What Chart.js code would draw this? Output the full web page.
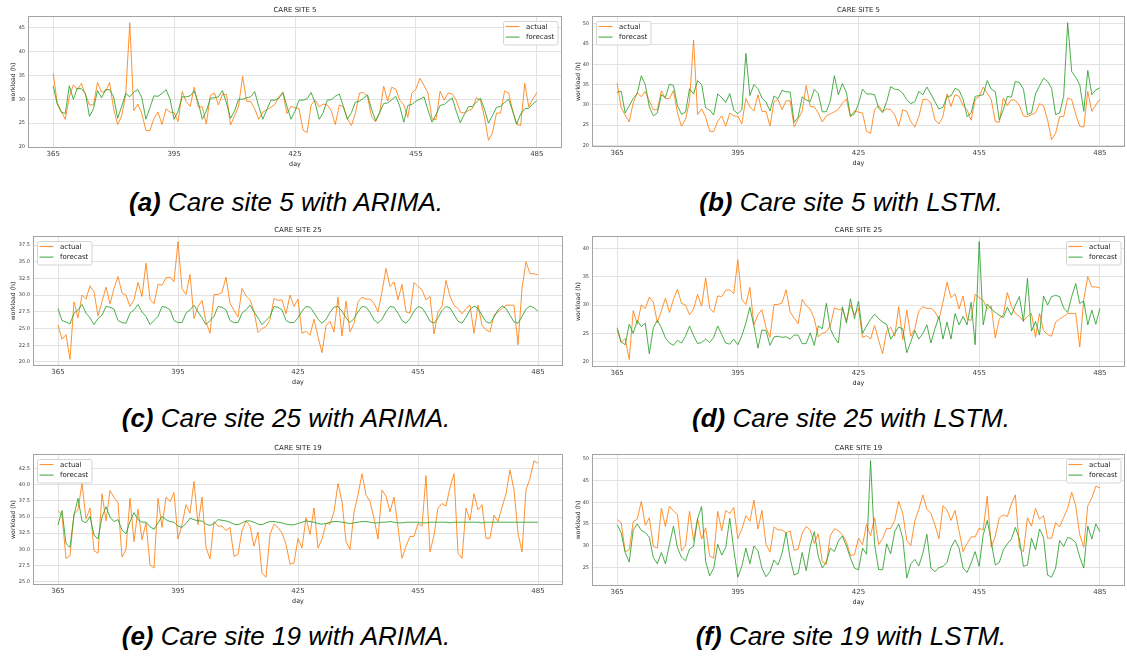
<!DOCTYPE html>
<html><head><meta charset="utf-8">
<script src="https://cdn.jsdelivr.net/npm/chart.js@4.4.0/dist/chart.umd.min.js"></script>
<style>
html,body{margin:0;padding:0;background:#fff;}
body{width:1127px;height:657px;position:relative;overflow:hidden;}
canvas{position:absolute;}
.cap{position:absolute;width:560px;text-align:center;font-family:"Liberation Sans",Arial,sans-serif;font-style:italic;font-size:26px;line-height:26px;color:#000;white-space:nowrap;}
.cap b{font-weight:bold;}
</style></head><body>
<canvas id="pa" width="565" height="172" style="left:0px;top:2px"></canvas>
<canvas id="pb" width="562" height="172" style="left:565px;top:2px"></canvas>
<canvas id="pc" width="565" height="166" style="left:0px;top:222px"></canvas>
<canvas id="pd" width="562" height="166" style="left:565px;top:222px"></canvas>
<canvas id="pe" width="565" height="168" style="left:0px;top:440px"></canvas>
<canvas id="pf" width="562" height="168" style="left:565px;top:440px"></canvas>
<div class="cap" style="left:6px;top:189px"><b>(a)</b> Care site 5 with ARIMA.</div>
<div class="cap" style="left:571px;top:189px"><b>(b)</b> Care site 5 with LSTM.</div>
<div class="cap" style="left:6px;top:405px"><b>(c)</b> Care site 25 with ARIMA.</div>
<div class="cap" style="left:571px;top:405px"><b>(d)</b> Care site 25 with LSTM.</div>
<div class="cap" style="left:6px;top:623px"><b>(e)</b> Care site 19 with ARIMA.</div>
<div class="cap" style="left:571px;top:623px"><b>(f)</b> Care site 19 with LSTM.</div>
<script>
const days = [365,366,367,368,369,370,371,372,373,374,375,376,377,378,379,380,381,382,383,384,385,386,387,388,389,390,391,392,393,394,395,396,397,398,399,400,401,402,403,404,405,406,407,408,409,410,411,412,413,414,415,416,417,418,419,420,421,422,423,424,425,426,427,428,429,430,431,432,433,434,435,436,437,438,439,440,441,442,443,444,445,446,447,448,449,450,451,452,453,454,455,456,457,458,459,460,461,462,463,464,465,466,467,468,469,470,471,472,473,474,475,476,477,478,479,480,481,482,483,484,485];

const actualSite5 = [35.4,29.3,27.5,25.8,30.5,33.0,32.0,33.3,31.0,28.8,
 28.8,33.5,31.5,31.6,33.5,28.0,24.7,26.5,31.0,46.0,
 27.6,29.0,27.0,23.5,23.4,26.0,27.3,24.7,28.0,27.3,
 27.2,25.3,31.6,29.5,28.5,32.5,28.4,28.4,24.8,30.8,
 31.3,28.8,31.0,31.0,24.6,26.5,28.5,34.8,29.6,29.5,
 28.0,25.8,27.3,27.8,28.3,28.9,30.5,31.4,27.0,28.5,
 28.2,28.0,23.5,23.0,28.8,29.8,28.4,29.0,28.8,27.6,
 24.7,28.8,28.4,25.9,24.5,27.1,31.3,31.4,30.5,26.3,
 25.3,27.1,32.7,29.6,32.5,32.1,29.8,28.8,26.2,31.3,
 32.1,34.4,32.9,31.3,25.9,25.7,31.7,29.8,31.3,31.1,
 29.8,27.3,27.1,27.6,28.0,30.3,29.8,26.3,21.4,23.0,
 27.1,27.1,31.7,31.3,27.6,24.7,24.5,33.3,28.4,30.0,
 31.4];
const arimaSite5 = [32.8,29.0,27.3,27.0,32.8,30.0,32.3,32.2,31.2,26.4,
 28.0,31.8,30.3,32.0,32.0,30.5,26.0,28.5,31.2,30.5,
 31.5,32.0,30.3,25.8,28.2,30.7,30.6,31.2,32.0,30.0,
 25.8,27.5,30.5,30.5,30.7,31.7,29.3,25.8,27.5,30.2,
 30.3,30.5,31.8,29.2,26.0,27.5,30.0,30.0,30.3,30.5,
 31.6,28.5,25.8,27.8,29.8,29.8,30.2,31.4,28.5,25.8,
 27.5,29.8,29.8,30.1,31.4,29.2,25.8,27.2,29.8,29.9,
 30.6,31.1,28.5,25.8,27.2,29.4,29.6,30.2,30.9,27.9,
 25.5,27.2,29.1,29.2,29.9,30.6,28.5,25.2,28.7,28.9,
 29.6,30.0,30.5,27.7,25.2,26.8,28.7,28.9,29.6,30.3,
 27.5,25.1,26.8,28.4,28.5,29.4,30.2,27.9,25.0,26.6,
 28.3,28.5,29.3,30.0,27.6,24.8,26.9,28.0,28.1,29.0,
 29.7];
const lstmSite5 = [33.1,33.4,28.0,29.8,31.6,32.8,37.2,35.0,29.5,27.3,
 28.0,32.5,31.8,35.1,34.8,29.8,27.7,28.2,34.0,32.7,
 36.0,35.0,29.3,28.7,27.5,32.7,31.8,30.6,32.8,28.7,
 27.8,28.8,42.7,32.3,35.0,34.0,31.7,30.7,28.5,32.2,
 31.5,33.6,33.2,33.2,25.7,27.0,32.0,31.2,30.8,33.8,
 32.8,28.3,28.3,31.0,37.2,32.5,35.3,33.0,27.3,27.8,
 30.3,33.9,32.7,32.7,32.5,29.2,28.1,30.8,34.5,33.9,
 33.7,32.9,31.3,30.3,30.8,33.3,32.5,34.4,32.7,30.8,
 29.0,29.4,32.1,32.2,34.1,33.6,31.4,27.1,28.0,32.1,
 32.3,32.5,36.0,33.9,33.3,26.3,28.8,32.1,31.9,35.8,
 35.5,33.9,27.6,28.0,32.7,34.7,36.6,35.8,34.1,27.6,
 28.0,32.1,50.3,38.2,36.8,35.0,28.4,38.5,32.5,33.7,
 34.2];

const actualSite25 = [25.5,23.4,24.1,20.4,29.0,26.6,30.0,29.4,31.4,30.5,
 26.9,29.0,31.2,28.7,31.0,32.8,30.3,30.0,28.3,29.3,
 31.9,29.8,34.8,29.4,28.7,31.6,31.5,32.6,32.7,32.0,
 38.0,31.0,30.1,33.1,26.5,28.3,29.2,26.0,24.3,30.1,
 30.1,30.4,32.7,28.8,27.7,26.7,31.0,29.9,29.3,27.6,
 24.4,25.0,25.3,26.3,29.5,29.2,29.3,27.2,30.0,28.3,
 29.4,24.3,24.6,24.0,26.4,23.8,21.4,25.4,26.1,24.5,
 29.7,23.9,29.1,24.5,25.8,29.0,29.7,29.4,29.4,28.8,
 27.5,30.5,34.0,31.3,32.0,29.3,31.6,27.5,27.3,31.9,
 31.3,30.8,29.3,29.8,24.2,27.5,28.3,32.2,29.8,28.5,
 28.0,27.2,28.0,28.5,24.3,28.5,25.5,24.8,24.5,27.0,
 27.5,28.0,28.5,28.5,28.5,22.6,31.0,35.0,33.2,33.2,
 33.0];
const arimaSite25 = [28.0,26.2,26.0,25.7,27.3,27.8,28.6,27.3,26.6,25.6,
 26.5,27.0,28.3,28.2,27.9,26.2,25.9,25.8,27.3,27.8,
 28.6,27.5,26.8,25.6,26.2,26.8,28.3,28.2,27.8,26.2,
 25.9,25.9,27.3,27.8,28.5,27.5,26.6,25.6,26.2,26.8,
 28.3,28.2,27.8,26.2,25.9,25.9,27.3,27.8,28.5,27.5,
 26.6,25.6,26.2,26.8,28.3,28.2,27.8,26.2,25.9,25.9,
 26.6,27.6,28.3,28.2,27.4,26.4,25.8,26.4,27.4,28.2,
 28.3,27.6,26.6,25.9,26.5,27.5,28.3,28.2,27.4,26.3,
 25.8,26.4,27.5,28.3,28.2,27.3,26.2,25.8,26.5,27.6,
 28.3,28.1,27.2,26.1,25.8,26.6,27.7,28.3,28.1,27.1,
 26.1,25.8,26.7,27.8,28.4,28.0,27.0,26.0,25.8,26.7,
 27.8,28.4,28.0,27.0,26.0,25.8,26.8,27.9,28.4,28.1,
 27.6];
const lstmSite25 = [26.0,23.5,23.0,26.6,25.0,27.3,26.2,26.8,21.4,26.0,
 27.3,26.0,24.2,23.3,22.9,23.8,23.3,24.5,26.3,24.6,
 23.2,23.4,24.0,23.4,24.3,26.3,24.8,23.3,23.1,24.0,
 23.0,24.6,26.8,29.6,26.3,22.4,25.6,25.5,22.9,24.4,
 24.5,24.3,24.4,24.0,24.7,24.7,23.2,23.2,25.1,22.9,
 26.3,25.8,30.3,25.8,24.3,23.3,29.7,26.8,31.1,27.6,
 30.7,25.0,26.3,27.5,28.4,27.6,27.0,26.6,24.0,25.0,
 26.1,25.8,21.6,23.5,25.5,24.0,25.0,26.5,23.3,25.8,
 28.0,24.0,27.0,24.0,28.5,26.5,28.0,26.5,30.5,23.0,
 41.2,26.5,30.2,29.3,28.7,28.2,27.8,29.6,28.2,30.0,
 31.5,27.1,34.7,25.4,27.1,24.7,31.6,30.0,31.5,31.7,
 31.5,29.5,28.7,31.5,33.8,30.3,30.7,26.5,29.1,26.6,
 29.4];

const actualSite19 = [36.0,35.3,28.6,29.0,35.5,36.1,40.2,34.7,36.4,29.8,
 29.4,38.6,34.4,39.1,38.0,37.2,28.8,30.0,37.9,31.2,
 36.2,31.5,34.1,27.6,27.1,37.9,33.4,38.1,37.4,38.8,
 31.6,33.8,36.9,35.6,40.5,33.8,38.1,30.3,28.5,34.3,
 33.6,33.6,32.9,33.4,28.9,29.2,32.9,34.4,33.6,30.5,
 32.7,26.3,25.7,32.3,33.9,33.4,32.5,30.8,27.7,27.9,
 31.7,30.2,34.9,32.3,36.4,30.2,31.6,34.0,33.9,35.8,
 40.2,37.4,31.2,30.0,35.7,38.4,41.7,38.4,37.4,34.8,
 31.6,39.2,38.2,35.8,38.1,33.4,28.6,30.5,32.0,32.0,
 34.0,33.6,41.4,29.6,32.2,36.4,37.1,36.7,39.6,41.7,
 29.4,28.6,36.4,34.5,38.6,36.1,36.9,31.7,31.7,35.3,
 34.3,36.5,38.6,42.3,39.2,32.5,29.6,39.2,41.0,43.7,
 43.3];
const arimaSite19 = [33.8,36.0,30.9,30.3,35.3,37.9,34.4,34.1,35.1,32.2,
 31.6,35.0,36.6,35.0,34.3,34.6,33.0,32.4,34.3,35.7,
 34.6,34.2,34.2,33.5,33.1,34.1,35.1,34.6,34.3,34.2,
 33.6,33.4,34.0,34.8,34.6,34.4,34.4,33.9,33.7,34.0,
 34.6,34.5,34.4,34.2,33.9,33.8,34.1,34.4,34.4,34.2,
 33.9,33.8,34.1,34.3,34.3,34.2,34.1,33.9,33.8,33.8,
 34.0,34.2,34.4,34.3,34.2,34.0,33.9,34.0,34.2,34.3,
 34.3,34.2,34.1,34.0,34.1,34.2,34.3,34.3,34.2,34.1,
 34.1,34.2,34.2,34.3,34.2,34.1,34.1,34.2,34.2,34.2,
 34.2,34.1,34.1,34.2,34.2,34.2,34.2,34.2,34.1,34.2,
 34.2,34.2,34.2,34.2,34.2,34.2,34.1,34.2,34.2,34.2,
 34.2,34.2,34.2,34.2,34.2,34.2,34.2,34.2,34.2,34.2,
 34.2];
const lstmSite19 = [34.8,33.0,28.4,26.2,33.6,35.0,33.5,33.0,31.9,27.2,
 25.8,28.4,25.8,30.2,34.5,29.5,27.3,26.5,29.2,29.8,
 36.2,39.0,26.3,23.0,24.8,30.3,27.8,29.6,36.3,29.0,
 22.7,25.2,29.4,25.8,29.9,28.8,24.8,22.8,24.0,26.7,
 25.5,28.2,33.0,27.1,23.2,23.6,28.4,24.2,29.8,33.2,
 27.5,24.8,26.2,29.4,28.6,31.1,32.2,29.9,27.1,24.8,
 24.4,29.4,28.0,49.6,30.2,24.5,24.4,30.4,28.1,33.2,
 35.0,31.7,22.5,25.8,26.8,25.3,28.2,32.6,24.8,24.0,
 24.9,25.2,26.1,29.6,31.3,29.4,24.8,23.8,26.0,28.6,
 25.2,32.5,35.8,30.9,25.5,26.1,29.0,30.4,31.5,34.2,
 31.5,25.2,25.5,31.7,29.0,33.8,31.9,23.2,22.7,24.8,
 31.2,29.8,31.9,31.5,30.7,27.3,24.8,34.5,31.5,35.0,
 33.2];

const xTicks = [365,395,425,455,485];
const yTicksSite5Arima = [20,25,30,35,40,45];
const yTicksSite5Lstm = [20,25,30,35,40,45,50];
const yTicksSite25Arima = [20,22.5,25,27.5,30,32.5,35,37.5];
const yTicksSite25Lstm = [20,25,30,35,40];
const yTicksSite19Arima = [25,27.5,30,32.5,35,37.5,40,42.5];
const yTicksSite19Lstm = [25,30,35,40,45,50];
const seriesLabels = ['actual','forecast'];

const ORANGE = 'rgba(255,127,14,0.85)', GREEN = 'rgba(44,160,44,0.85)';
const XH = 21;

const panels = [
  {id:'pa', title:'CARE SITE 5',  actual:actualSite5,  fc:arimaSite5,  yTicks:yTicksSite5Arima,  yMin:20.0,  yMax:47.2, dec:0, leg:'ur', cx:0,   cy:2,   w:565, h:172, area:[29,17,561,147]},
  {id:'pb', title:'CARE SITE 5',  actual:actualSite5,  fc:lstmSite5,   yTicks:yTicksSite5Lstm,   yMin:19.85, yMax:51.7, dec:0, leg:'ul', cx:565, cy:2,   w:562, h:172, area:[593,17,1124,146]},
  {id:'pc', title:'CARE SITE 25', actual:actualSite25, fc:arimaSite25, yTicks:yTicksSite25Arima, yMin:19.55, yMax:38.7, dec:1, leg:'ul', cx:0,   cy:222, w:565, h:166, area:[34,237,562,365]},
  {id:'pd', title:'CARE SITE 25', actual:actualSite25, fc:lstmSite25,  yTicks:yTicksSite25Lstm,  yMin:19.25, yMax:42.0, dec:0, leg:'ur', cx:565, cy:222, w:562, h:166, area:[593,237,1124,366]},
  {id:'pe', title:'CARE SITE 19', actual:actualSite19, fc:arimaSite19, yTicks:yTicksSite19Arima, yMin:24.64, yMax:44.6, dec:1, leg:'ul', cx:0,   cy:440, w:565, h:168, area:[34,455,562,584]},
  {id:'pf', title:'CARE SITE 19', actual:actualSite19, fc:lstmSite19,  yTicks:yTicksSite19Lstm,  yMin:20.9,  yMax:50.9, dec:0, leg:'ur', cx:565, cy:440, w:562, h:168, area:[593,455,1124,585]}
];

const framePlugin = {
  id:'frame',
  afterDraw(chart){
    const {ctx, chartArea:a} = chart;
    ctx.save();
    ctx.strokeStyle = '#a3a3a3';
    ctx.lineWidth = 1;
    ctx.strokeRect(a.left - 0.5, a.top - 0.5, a.width + 1, a.height + 1);
    ctx.restore();
  }
};

const legendPlugin = {
  id:'mplLegend',
  afterDatasetsDraw(chart, args, opts){
    const {ctx, chartArea:a} = chart;
    const w = 54.5, h = 23.5;
    const x0 = opts.side === 'ur' ? a.right - 3.5 - w : a.left + 3;
    const y0 = a.top + 3.5;
    ctx.save();
    ctx.beginPath();
    if (ctx.roundRect) ctx.roundRect(Math.round(x0) + 0.5, Math.round(y0) + 0.5, w, h, 2);
    else ctx.rect(Math.round(x0) + 0.5, Math.round(y0) + 0.5, w, h);
    ctx.fillStyle = 'rgba(255,255,255,0.85)';
    ctx.fill();
    ctx.strokeStyle = '#d4d4d4';
    ctx.lineWidth = 1;
    ctx.stroke();
    ctx.font = '7px "DejaVu Sans"';
    ctx.textBaseline = 'middle';
    ctx.textAlign = 'left';
    chart.data.datasets.forEach((ds, i) => {
      const yy = y0 + 6 + i * 10.6;
      ctx.strokeStyle = ds.borderColor;
      ctx.lineWidth = 1.1;
      ctx.beginPath();
      ctx.moveTo(x0 + 2.5, yy);
      ctx.lineTo(x0 + 16.5, yy);
      ctx.stroke();
      ctx.fillStyle = '#222';
      ctx.fillText(ds.label, x0 + 23, yy + 0.5);
    });
    ctx.restore();
  }
};

panels.forEach(p => {
  const relAreaTop = p.area[1] - p.cy;
  const relAreaBottom = p.area[3] - p.cy;
  const yAxisW = p.area[0] - p.cx;
  new Chart(document.getElementById(p.id), {
    type:'line',
    data:{
      datasets:[
        {label:seriesLabels[0], data:days.map((d,i)=>({x:d, y:p.actual[i]})), borderColor:ORANGE, backgroundColor:ORANGE, borderWidth:1, pointRadius:0, tension:0, order:1},
        {label:seriesLabels[1], data:days.map((d,i)=>({x:d, y:p.fc[i]})), borderColor:GREEN, backgroundColor:GREEN, borderWidth:1, pointRadius:0, tension:0, order:0}
      ]
    },
    options:{
      responsive:false,
      devicePixelRatio:1,
      animation:false,
      events:[],
      layout:{padding:{left:0, top:5, right:(p.cx + p.w) - p.area[2], bottom:p.h - relAreaBottom - XH}},
      plugins:{
        legend:{display:false},
        tooltip:{enabled:false},
        title:{display:true, text:p.title, fullSize:false, color:'#262626',
               font:{family:'"DejaVu Sans"', size:7, lineHeight:1, weight:'normal'},
               padding:{top:0, bottom:relAreaTop - 5 - 7}},
        mplLegend:{side:p.leg}
      },
      scales:{
        x:{
          type:'linear', min:359, max:491,
          afterBuildTicks:s => { s.ticks = xTicks.map(v => ({value:v})); },
          afterFit:s => { s.height = XH; },
          grid:{color:'#e2e2e2', lineWidth:1, drawTicks:false},
          border:{display:false},
          ticks:{color:'#404040', font:{family:'"DejaVu Sans"', size:7}, padding:3, maxRotation:0, callback:v => String(v)},
          title:{display:true, text:'day', color:'#262626', font:{family:'"DejaVu Sans"', size:6.4}, padding:{top:0, bottom:0}}
        },
        y:{
          type:'linear', min:p.yMin, max:p.yMax,
          afterBuildTicks:s => { s.ticks = p.yTicks.map(v => ({value:v})); },
          afterFit:s => { s.width = yAxisW; },
          grid:{color:'#e2e2e2', lineWidth:1, drawTicks:false},
          border:{display:false},
          ticks:{color:'#404040', font:{family:'"DejaVu Sans"', size:5}, padding:4, callback:v => p.dec ? v.toFixed(1) : String(v)},
          title:{display:true, text:'workload (h)', color:'#262626', font:{family:'"DejaVu Sans"', size:6.2}, padding:{top:10, bottom:0}}
        }
      }
    },
    plugins:[framePlugin, legendPlugin]
  });
});
</script>
</body></html>
